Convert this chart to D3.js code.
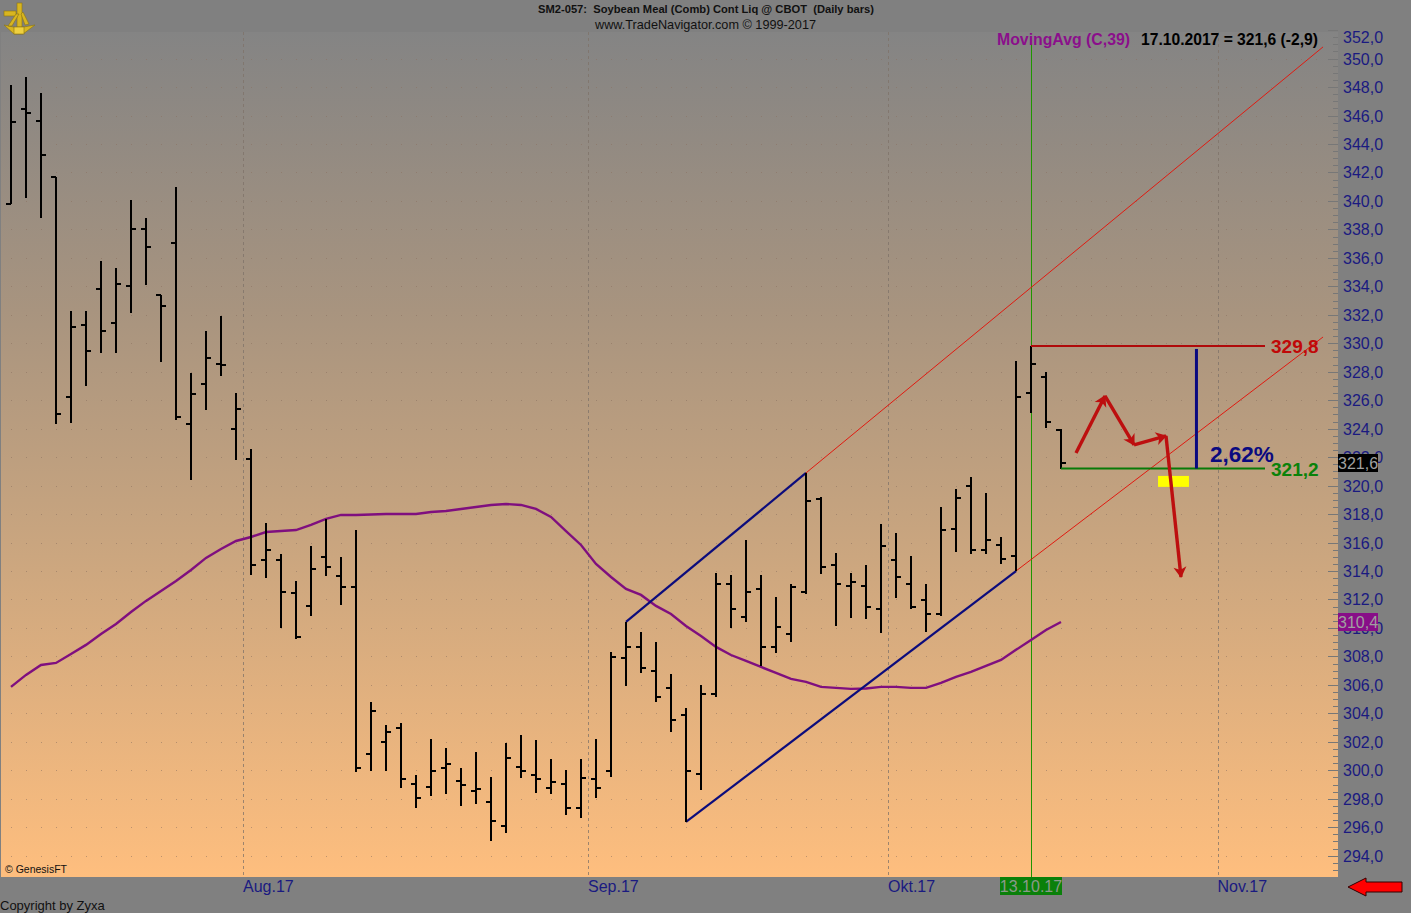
<!DOCTYPE html>
<html><head><meta charset="utf-8">
<script src="https://cdn.jsdelivr.net/npm/d3@7/dist/d3.min.js"></script>
<style>html,body{margin:0;padding:0;background:#808080;overflow:hidden}svg{display:block}text{font-family:"Liberation Sans",Arial,sans-serif}</style>
</head><body><svg id="c" width="1411" height="913"></svg>
<script>
const opens=[339.79,346.46,345.62,341.68,326.23,331.29,333.82,331.43,334.03,338.03,333.39,337.05,324.33,327.14,328.55,323.98,321.87,314.78,314.78,312.46,311.55,314.99,313.65,312.88,301.15,301.99,302.98,299.04,298.83,300.16,299.25,298.55,297.78,296.09,300.23,299.67,298.76,299.04,297.35,299.39,299.95,307.89,308.67,306.98,305.78,303.89,299.74,305.37,313.09,310.77,312.74,308.67,309.58,312.53,319.06,314.43,312.95,312.95,311.33,314.78,313.09,311.97,310.98,316.95,319.98,315.48,315.83,315.06,326.51,327.63,323.91];
const highs=[348.15,348.71,347.58,341.68,332.27,332.27,335.78,335.29,340.07,338.80,333.39,340.98,327.91,330.86,331.92,326.51,322.58,317.38,315.2,313.3,315.76,317.66,314.99,316.85,304.8,303.19,303.33,299.67,302.2,301.57,300.16,301.29,299.53,301.92,302.48,302.13,300.8,300.02,300.8,302.2,308.3,310.41,309.72,309.02,306.77,304.38,305.99,313.86,313.72,316.18,313.72,312.18,313.09,320.89,319.2,315.27,313.86,314.43,317.31,316.67,315.06,313.09,318.5,319.77,320.61,319.48,316.39,328.76,329.8,327.98,323.98];
const lows=[339.79,340.21,338.8,324.33,324.4,326.99,329.32,329.32,332.13,334.1,328.69,324.61,320.4,325.3,327.7,321.8,313.72,313.51,310.0,309.23,310.84,313.65,311.6,299.88,299.95,299.95,298.76,297.35,298.2,298.34,297.49,297.63,295.04,295.6,299.46,298.41,298.34,296.86,296.65,298.06,299.53,305.93,306.84,304.8,302.69,296.37,298.62,305.15,310.0,310.41,307.33,308.24,309.02,312.39,313.79,310.14,310.7,310.63,309.65,312.11,311.33,309.72,310.84,315.34,315.2,315.2,314.5,314.0,325.1,324.05,321.17];
const closes=[345.55,346.18,343.23,325.0,331.14,329.46,330.86,334.17,338.03,336.77,332.62,324.82,326.44,328.97,328.48,325.38,314.43,315.48,312.53,309.37,314.15,314.29,312.88,300.16,304.17,302.69,299.39,298.06,299.95,300.45,298.97,298.69,296.44,300.87,299.95,299.39,299.18,297.35,299.46,298.76,307.96,308.67,307.19,305.15,303.54,299.95,305.37,313.09,311.33,312.53,308.67,310.07,312.88,318.92,314.29,313.09,313.23,311.47,315.76,313.58,311.47,310.98,316.88,319.13,315.48,316.18,314.85,326.23,328.55,324.47,321.6];
const movingAvg=[305.86,306.7,307.4,307.54,308.17,308.81,309.58,310.28,311.12,311.9,312.6,313.3,314.07,314.92,315.55,316.11,316.39,316.74,316.81,316.88,317.24,317.66,317.94,317.94,317.97,318.01,318.01,318.01,318.15,318.22,318.36,318.5,318.64,318.71,318.64,318.36,317.8,316.81,315.83,314.5,313.58,312.74,312.32,311.55,310.98,310.14,309.44,308.67,308.1,307.68,307.26,306.84,306.42,306.21,305.86,305.79,305.72,305.75,305.86,305.86,305.79,305.79,306.14,306.56,306.91,307.33,307.75,308.46,309.16,309.86,310.42];
const monthLabels=["Aug.17","Sep.17","Okt.17","Nov.17"];
const monthPositions=[15.5,38.5,58.5,80.47];
const priceTicks=d3.range(294,353,2);
const minorTicks=d3.range(293,352.5,0.5).filter(v=>v%2!==0);
const blueLines=[[41,310.42,53,320.89],[45,296.37,67,314.0]];
const redLines=[[53,320.89,87.47,350.82],[67,314.0,87.47,330.44]];
const arrowPoints=[[71,322.29],[72.93,326.3],[74.87,322.86],[77,323.49],[78,313.58]];
const highLevel=329.8, lowLevel=321.2, markerBar=68, lastBar=70, levelEnd=83.6;
const lastClose=321.6, lastAvg=310.4, measureBar=79.03, measureTop=329.6;
const yellowBox=[76.47,78.53,320.68,319.91];

const W=1411,H=913,plotR=1338,plotT=32,plotB=877;
const svg=d3.select("#c");
const x=d3.scaleLinear().domain([0,70]).range([11,1061]);
const y=d3.scaleLinear().domain([294,352]).range([855.7,30.1]);
const fmt=v=>d3.format(".1f")(v).replace(".",",");

const defs=svg.append("defs");
const g=defs.append("linearGradient").attr("id","bg").attr("x1",0).attr("y1",0).attr("x2",0).attr("y2",1);
g.append("stop").attr("offset",0).attr("stop-color","#848484");
g.append("stop").attr("offset",0.33).attr("stop-color","#a8947f");
g.append("stop").attr("offset",0.62).attr("stop-color","#cba67f");
g.append("stop").attr("offset",1).attr("stop-color","#febe7e");
const mk=defs.append("marker").attr("id","ah").attr("markerUnits","userSpaceOnUse").attr("markerWidth",18).attr("markerHeight",18)
 .attr("viewBox","-12 -9 18 18").attr("refX",1).attr("refY",0).attr("orient","auto");
mk.append("path").attr("d","M2,0L-9,-6.5L-6,0L-9,6.5Z").attr("fill","#bd0f0f");
defs.append("clipPath").attr("id","pc").append("rect").attr("x",1).attr("y",plotT).attr("width",plotR-1).attr("height",plotB-plotT);

svg.append("rect").attr("width",W).attr("height",H).attr("fill","#808080");
svg.append("rect").attr("x",1).attr("y",plotT).attr("width",plotR-1).attr("height",plotB-plotT).attr("fill","url(#bg)");

const plot=svg.append("g").attr("clip-path","url(#pc)");
// dotted grid
const dotX=d3.range(0,89);
const dots=plot.append("g").attr("fill","#8a7060").attr("opacity",0.55);
priceTicks.forEach(p=>dots.selectAll(null).data(dotX).join("rect")
 .attr("x",d=>Math.round(x(d))).attr("y",Math.round(y(p))).attr("width",1).attr("height",1));
// month lines
plot.selectAll(".m").data(monthPositions).join("line").attr("x1",d=>x(d)).attr("x2",d=>x(d))
 .attr("y1",plotT).attr("y2",plotB).attr("stroke","#7d7268").attr("stroke-opacity",.75).attr("stroke-dasharray","3,3").attr("shape-rendering","crispEdges");
// marker line
plot.append("line").attr("x1",x(markerBar)+.5).attr("x2",x(markerBar)+.5).attr("y1",44).attr("y2",plotB).attr("stroke","#1f9600").attr("stroke-width",1);

// thin red channel
plot.selectAll(".r").data(redLines).join("line").attr("x1",d=>x(d[0])).attr("y1",d=>y(d[1])).attr("x2",d=>x(d[2])).attr("y2",d=>y(d[3])).attr("stroke","#e01a10").attr("stroke-width",1);

// moving average
plot.append("path").datum(movingAvg).attr("fill","none").attr("stroke","#7f0f7f").attr("stroke-width",2.4)
 .attr("d",d3.line().x((d,i)=>x(i)).y(d=>y(d)));

// blue channel
plot.selectAll(".b").data(blueLines).join("line").attr("x1",d=>x(d[0])).attr("y1",d=>y(d[1])).attr("x2",d=>x(d[2])).attr("y2",d=>y(d[3])).attr("stroke","#0c0c7c").attr("stroke-width",2.2);

// yellow
plot.append("rect").attr("x",x(yellowBox[0])).attr("width",x(yellowBox[1])-x(yellowBox[0])).attr("y",y(yellowBox[2])).attr("height",y(yellowBox[3])-y(yellowBox[2])).attr("fill","#ffff00");

// OHLC bars
const bars=plot.append("g").attr("stroke","#000").attr("stroke-width",2).attr("shape-rendering","crispEdges");
highs.forEach((h,i)=>{
 bars.append("line").attr("x1",x(i)).attr("x2",x(i)).attr("y1",y(h)).attr("y2",y(lows[i]));
 bars.append("line").attr("x1",x(i)-5).attr("x2",x(i)).attr("y1",y(opens[i])).attr("y2",y(opens[i]));
 bars.append("line").attr("x1",x(i)).attr("x2",x(i)+5).attr("y1",y(closes[i])).attr("y2",y(closes[i]));
});

// levels
plot.append("line").attr("x1",x(markerBar)).attr("x2",x(levelEnd)).attr("y1",y(highLevel)).attr("y2",y(highLevel)).attr("stroke","#b00a0a").attr("stroke-width",2);
plot.append("line").attr("x1",x(lastBar)).attr("x2",x(levelEnd)).attr("y1",y(lowLevel)).attr("y2",y(lowLevel)).attr("stroke","#087a08").attr("stroke-width",2);
plot.append("line").attr("x1",x(measureBar)).attr("x2",x(measureBar)).attr("y1",y(measureTop)).attr("y2",y(lowLevel)).attr("stroke","#0a0a80").attr("stroke-width",3);
// scenario arrows
d3.pairs(arrowPoints).forEach(([a,b])=>{
 plot.append("line").attr("x1",x(a[0])).attr("y1",y(a[1])).attr("x2",x(b[0])).attr("y2",y(b[1])).attr("stroke","#bd0f0f").attr("stroke-width",3.4).attr("marker-end","url(#ah)");
});

// annotations
const bold=(tx,ty,s,size,col)=>svg.append("text").attr("x",tx).attr("y",ty).attr("font-size",size).attr("font-weight","bold").attr("fill",col).text(s);
bold(1271,353,fmt(highLevel),19,"#c00808");
bold(1271,476,fmt(lowLevel),19,"#0a820a");
bold(1210,462,"2,62%",22.5,"#0a0a80");

// right axis
const axR=svg.append("g").attr("transform",`translate(${plotR},0)`);
axR.append("g").call(d3.axisLeft(y).tickValues(minorTicks).tickSize(5).tickFormat(""))
 .call(s=>s.select(".domain").remove()).selectAll("line").attr("stroke","#777").attr("shape-rendering","crispEdges");
axR.append("g").attr("class","major").call(d3.axisLeft(y).tickValues(priceTicks).tickSize(10).tickFormat(fmt))
 .call(s=>s.select(".domain").remove())
 .call(s=>s.selectAll("line").attr("stroke","#777").attr("shape-rendering","crispEdges"))
 .call(s=>s.selectAll("text").attr("x",5).attr("dy",null).attr("y",5.5).attr("text-anchor","start")
   .attr("font-size",16).attr("fill","#1a1a80").style("font-family",'"Liberation Sans",Arial,sans-serif')
   .attr("transform",d=>d===352?"translate(0,6.9)":null));

// value boxes
const box=(by,bh,base,col,val)=>{
 svg.append("rect").attr("x",plotR).attr("y",by).attr("width",40).attr("height",bh).attr("fill",col);
 svg.append("text").attr("x",plotR).attr("y",base).attr("font-size",16).attr("fill","#a0a0a0").text(fmt(val));
};
box(454,18,468.5,"#000",lastClose);
box(613,18,628,"#880e88",lastAvg);

// bottom axis
const axB=svg.append("g").attr("transform",`translate(-1,${plotB})`);
axB.call(d3.axisBottom(x).tickValues(monthPositions).tickSize(0).tickFormat((d,i)=>monthLabels[i]))
 .call(s=>s.select(".domain").remove())
 .call(s=>s.selectAll("text").attr("text-anchor","start").attr("y",15).attr("dy",null).attr("font-size",16).attr("fill","#1a1a80").style("font-family",'"Liberation Sans",Arial,sans-serif'));
svg.append("rect").attr("x",1000).attr("y",plotB).attr("width",62).attr("height",18).attr("fill","#0a800a");
svg.append("text").attr("x",1031).attr("y",892).attr("text-anchor","middle").attr("font-size",16).attr("fill","#8a9a8a").text("13.10.17");

// header and captions
svg.append("text").attr("x",706).attr("y",13).attr("text-anchor","middle").attr("font-size",11).attr("font-weight","bold").attr("fill","#111").attr("xml:space","preserve").attr("textLength",336).attr("lengthAdjust","spacingAndGlyphs").text("SM2-057:  Soybean Meal (Comb) Cont Liq @ CBOT  (Daily bars)");
svg.append("text").attr("x",595).attr("y",29).attr("font-size",13).attr("fill","#111").attr("textLength",221).attr("lengthAdjust","spacingAndGlyphs").text("www.TradeNavigator.com © 1999-2017");
svg.append("text").attr("x",997).attr("y",45).attr("font-size",16).attr("font-weight","bold").attr("fill","#8b0f8b").attr("textLength",133).attr("lengthAdjust","spacingAndGlyphs").text("MovingAvg (C,39)");
svg.append("text").attr("x",1141).attr("y",45).attr("font-size",16).attr("font-weight","bold").attr("fill","#000").attr("textLength",177).attr("lengthAdjust","spacingAndGlyphs").text("17.10.2017 = 321,6 (-2,9)");
svg.append("text").attr("x",5).attr("y",873).attr("font-size",10.5).attr("fill","#111").text("© GenesisFT");
svg.append("text").attr("x",0).attr("y",910).attr("font-size",13).attr("fill","#111").text("Copyright by Zyxa");

// red pointer arrow
svg.append("path").attr("d","M1348,887L1366,878V882H1402V892H1366V896Z").attr("fill","#f00").attr("stroke","#300").attr("stroke-width",1);

// sextant logo
const logo=svg.append("g").attr("fill","#d8b520").attr("stroke","#8a7410").attr("stroke-width",.6);
logo.append("rect").attr("x",4).attr("y",11).attr("width",12).attr("height",5);
logo.append("rect").attr("x",17).attr("y",3).attr("width",5).attr("height",24);
logo.append("path").attr("d","M4,25L18,28L35,25L23,34L14,34Z");
logo.append("path").attr("d","M8,26L16,14L19,14L12,26Z");
logo.append("path").attr("d","M23,12L29,24L25,25L21,14Z");
logo.append("rect").attr("x",14).attr("y",27).attr("width",10).attr("height",7).attr("fill","#efd040");
</script></body></html>
